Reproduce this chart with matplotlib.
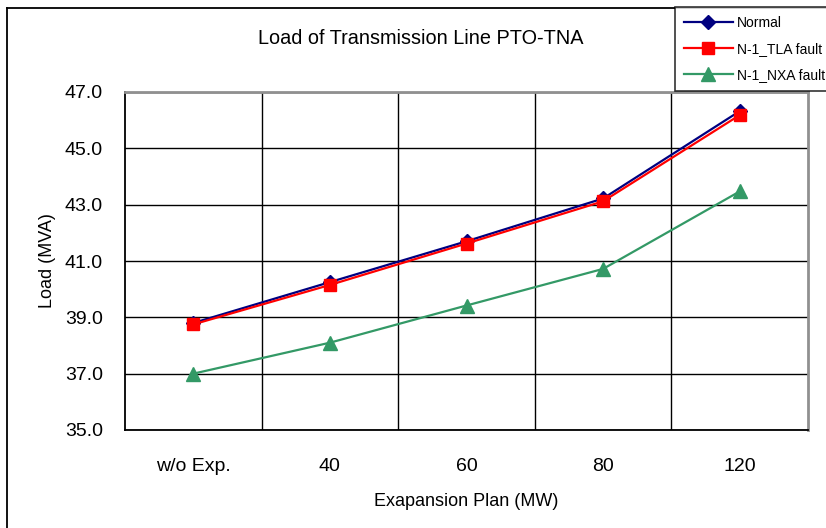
import matplotlib
matplotlib.use("Agg")
import matplotlib.pyplot as plt
from matplotlib.lines import Line2D
import numpy as np

# values
plans = ["w/o Exp.", "40", "60", "80", "120"]
normal = [38.80, 40.25, 41.70, 43.22, 46.32]
tla_fault = [38.75, 40.15, 41.62, 43.12, 46.18]
nxa_fault = [37.00, 38.10, 39.42, 40.72, 43.47]
y_ticks = [35.0, 37.0, 39.0, 41.0, 43.0, 45.0, 47.0]

W, H = 826, 528
plt.rcParams.update({"font.family": ["Liberation Sans", "DejaVu Sans"]})
fig = plt.figure(figsize=(W / 100, H / 100), dpi=100)
ax = fig.add_axes([125 / W, 1 - 430 / H, (808 - 125) / W, (430 - 92) / H])

x = np.arange(len(plans))
ax.plot(x, normal, color="#000080", lw=1.6, marker="D", ms=7.5, label="Normal", zorder=4)
ax.plot(x, tla_fault, color="#FF0000", lw=1.6, marker="s", ms=8.5, label="N-1_TLA fault", zorder=5)
ax.plot(x, nxa_fault, color="#339966", lw=1.6, marker="^", ms=9.5, label="N-1_NXA fault", zorder=4)

ax.set_xlim(-0.5, len(plans) - 0.5)
ax.set_ylim(35, 47)
ax.set_xticks(x)
ax.set_xticklabels(plans, fontsize=14)
ax.set_xticks(np.arange(0.5, len(plans) - 1, 1.0), minor=True)
ax.set_yticks(y_ticks)
ax.set_yticklabels([f"{v:.1f}" for v in y_ticks], fontsize=14)
ax.tick_params(axis="x", which="both", length=0, pad=20)
ax.tick_params(axis="y", length=0, pad=16)
ax.grid(axis="y", which="major", color="black", lw=1.0)
ax.grid(axis="x", which="minor", color="black", lw=1.0)
ax.set_axisbelow(True)

for side in ("left", "bottom"):
    ax.spines[side].set_color("black")
    ax.spines[side].set_linewidth(1.3)
for side in ("top", "right"):
    ax.spines[side].set_color("#909090")
    ax.spines[side].set_linewidth(2.0)

ax.set_xlabel("Exapansion Plan (MW)", fontsize=13, labelpad=13)
ax.set_ylabel("Load (MVA)", fontsize=13, labelpad=6)
fig.text(421 / W, 1 - 39 / H, "Load of Transmission Line PTO-TNA", fontsize=14.3,
         ha="center", va="center")

# outer chart frame (left and top edges visible)
fig.add_artist(Line2D([7 / W, 7 / W], [0, 1 - 8 / H], transform=fig.transFigure, color="black", lw=1.3))
fig.add_artist(Line2D([7 / W, 1], [1 - 8 / H, 1 - 8 / H], transform=fig.transFigure, color="black", lw=1.3))

# legend box runs past the right edge, as in the reference
leg = fig.legend(loc="upper left", bbox_to_anchor=(675 / W, 1 - 7 / H, 170 / W, 0),
                 mode="expand", fontsize=10, frameon=True, fancybox=False,
                 borderaxespad=0, borderpad=0.65, handlelength=3.5, handletextpad=0.3,
                 labelspacing=0.85)
leg.get_frame().set_edgecolor("black")
leg.get_frame().set_linewidth(1.2)

fig.savefig("out.png", dpi=100)
